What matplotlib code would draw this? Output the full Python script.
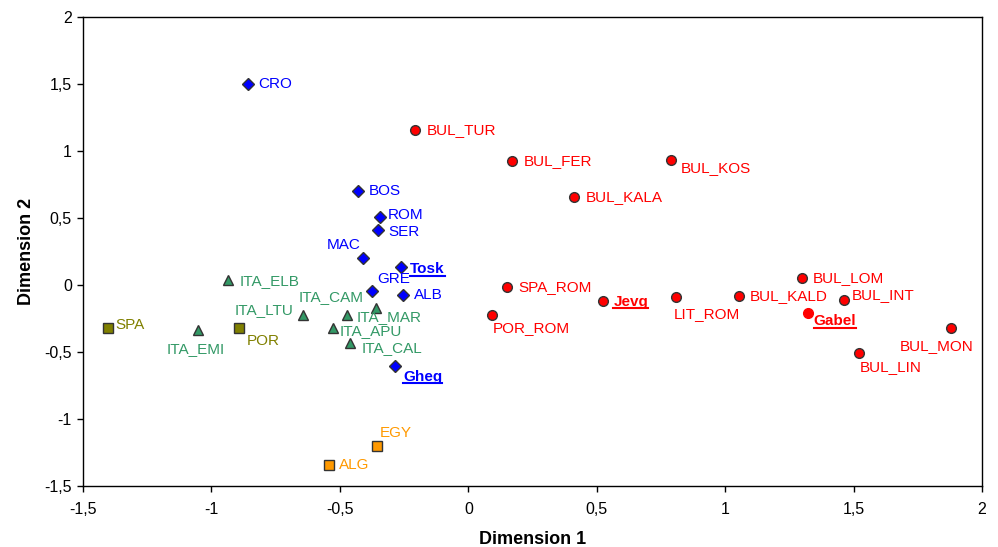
import matplotlib
matplotlib.use("Agg")
import matplotlib.pyplot as plt
from matplotlib.lines import Line2D
from matplotlib.ticker import FuncFormatter

plt.rcParams['font.family'] = ['Liberation Sans', 'DejaVu Sans']

# groups: names, dim1, dim2
blue_names = ['CRO', 'BOS', 'ROM', 'SER', 'MAC', 'Tosk', 'GRE', 'ALB', 'Gheg']
blue_x = [-0.857, -0.428, -0.343, -0.350, -0.409, -0.261, -0.374, -0.253, -0.284]
blue_y = [1.500, 0.701, 0.507, 0.410, 0.201, 0.134, -0.045, -0.075, -0.604]

red_names = ['BUL_TUR', 'BUL_FER', 'BUL_KOS', 'BUL_KALA', 'SPA_ROM', 'POR_ROM', 'Jevg',
             'LIT_ROM', 'BUL_KALD', 'BUL_LOM', 'BUL_INT', 'Gabel', 'BUL_MON', 'BUL_LIN']
red_x = [-0.206, 0.172, 0.788, 0.413, 0.152, 0.094, 0.526, 0.807, 1.053, 1.298, 1.462, 1.321, 1.879, 1.520]
red_y = [1.157, 0.925, 0.933, 0.657, -0.015, -0.224, -0.119, -0.090, -0.082, 0.052, -0.112, -0.209, -0.321, -0.507]

green_names = ['ITA_ELB', 'ITA_LTU', 'ITA_MAR', 'ITA_CAM', 'ITA_APU', 'ITA_CAL', 'ITA_EMI']
green_x = [-0.935, -0.643, -0.471, -0.358, -0.526, -0.460, -1.052]
green_y = [0.037, -0.224, -0.224, -0.172, -0.321, -0.433, -0.336]

olive_names = ['SPA', 'POR']
olive_x = [-1.403, -0.892]
olive_y = [-0.321, -0.321]

orange_names = ['EGY', 'ALG']
orange_x = [-0.354, -0.541]
orange_y = [-1.201, -1.343]

highlight = ['Tosk', 'Gheg', 'Jevg', 'Gabel']

# label offsets in pixels (dx, dy, ha)
offsets = {
    'CRO': (10, 0, 'left'), 'BOS': (10, 0, 'left'), 'ROM': (8, 2, 'left'),
    'SER': (10, -2, 'left'), 'MAC': (-3, 13, 'right'), 'Tosk': (9, -2, 'left'),
    'GRE': (5, 12, 'left'), 'ALB': (11, 0, 'left'), 'Gheg': (8, -11, 'left'),
    'BUL_TUR': (11, 0, 'left'), 'BUL_FER': (11, 0, 'left'), 'BUL_KOS': (10, -8, 'left'),
    'BUL_KALA': (11, 0, 'left'), 'SPA_ROM': (11, 0, 'left'), 'POR_ROM': (0, -13, 'left'),
    'Jevg': (10, -1, 'left'), 'LIT_ROM': (-2, -17, 'left'), 'BUL_KALD': (11, 0, 'left'),
    'BUL_LOM': (11, 0, 'left'), 'BUL_INT': (8, 5, 'left'), 'Gabel': (6, -8, 'left'),
    'BUL_MON': (-14, -18, 'center'), 'BUL_LIN': (1, -14, 'left'),
    'ITA_ELB': (11, -1, 'left'), 'ITA_LTU': (-10, 5, 'right'), 'ITA_MAR': (9, -2, 'left'),
    'ITA_CAM': (-13, 11, 'right'), 'ITA_APU': (6, -3, 'left'), 'ITA_CAL': (11, -5, 'left'),
    'ITA_EMI': (-2, -19, 'center'), 'SPA': (7, 3, 'left'), 'POR': (8, -13, 'left'),
    'EGY': (2, 13, 'left'), 'ALG': (10, 0, 'left'),
}

groups = [
    (blue_names, blue_x, blue_y, 'D', '#0000FF', 6),
    (red_names, red_x, red_y, 'o', '#FF0000', 7),
    (green_names, green_x, green_y, '^', '#339966', 7),
    (olive_names, olive_x, olive_y, 's', '#808000', 6.5),
    (orange_names, orange_x, orange_y, 's', '#FF9900', 6.5),
]

fig = plt.figure(figsize=(9.98, 5.47), dpi=100)
ax = fig.add_axes([0.0832, 0.1115, 0.9008, 0.8574])

underlined = []
for names, xs, ys, marker, col, ms in groups:
    for n, x, y in zip(names, xs, ys):
        ec = col if n == 'Gabel' else '#333333'
        ax.plot(x, y, marker=marker, ms=ms, mfc=col, mec=ec, mew=1.0, ls='none', zorder=3)
        dx, dy, ha = offsets[n]
        t = ax.annotate(n, (x, y), xytext=(dx, dy), textcoords='offset pixels',
                        ha=ha, va='center', color=col, fontsize=11, zorder=4,
                        fontweight='bold' if n in highlight else 'normal')
        if n in highlight:
            underlined.append((t, col))

ax.set_xlim(-1.5, 2)
ax.set_ylim(-1.5, 2)
ax.set_xticks([-1.5, -1, -0.5, 0, 0.5, 1, 1.5, 2])
ax.set_yticks([-1.5, -1, -0.5, 0, 0.5, 1, 1.5, 2])
fmt = FuncFormatter(lambda v, p: ('%g' % v).replace('.', ','))
ax.xaxis.set_major_formatter(fmt)
ax.yaxis.set_major_formatter(fmt)
ax.tick_params(direction='out', length=4, labelsize=11.5, width=1)
ax.tick_params(axis='x', pad=7.5)
ax.tick_params(axis='y', pad=4)
for s in ax.spines.values():
    s.set_linewidth(1.0)

ax.set_xlabel('Dimension 1', fontsize=13, fontweight='bold', labelpad=10)
ax.set_ylabel('Dimension 2', fontsize=13, fontweight='bold', labelpad=7)

# underline the highlighted labels
fig.canvas.draw()
r = fig.canvas.get_renderer()
for t, col in underlined:
    bb = t.get_window_extent(r)
    yl = bb.y0 + 0.5
    fig.add_artist(Line2D([bb.x0, bb.x1], [yl, yl], transform=None, color=col, lw=1.5))

fig.savefig('out.png', dpi=100)
